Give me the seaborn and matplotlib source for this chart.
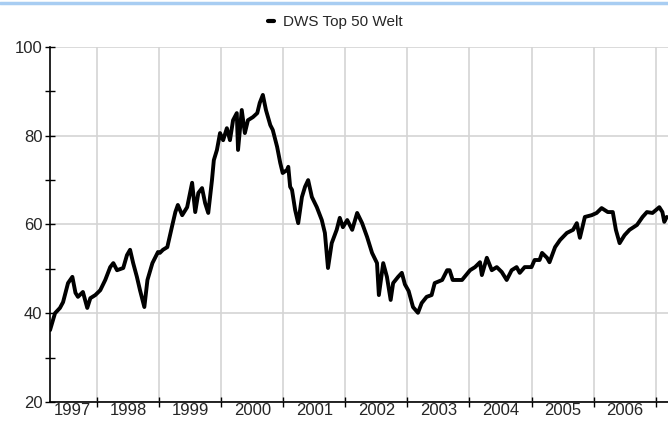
import pandas as pd
import matplotlib.pyplot as plt
import seaborn as sns
from matplotlib.lines import Line2D

# DWS Top 50 Welt (decimal year, price)
years = [1997.24, 1997.32, 1997.40, 1997.45, 1997.53, 1997.60, 1997.65, 1997.69, 1997.77, 1997.84,
         1997.89, 1997.97, 1998.05, 1998.13, 1998.21, 1998.26, 1998.32, 1998.42, 1998.48, 1998.53,
         1998.58, 1998.64, 1998.69, 1998.76, 1998.81, 1998.89, 1998.98, 1999.01, 1999.06, 1999.13,
         1999.18, 1999.21, 1999.26, 1999.30, 1999.37, 1999.45, 1999.53, 1999.58, 1999.63, 1999.69,
         1999.74, 1999.79, 1999.85, 1999.88, 1999.93, 1999.98, 2000.03, 2000.09, 2000.14, 2000.19,
         2000.25, 2000.27, 2000.33, 2000.38, 2000.43, 2000.51, 2000.58, 2000.62, 2000.67, 2000.72,
         2000.79, 2000.83, 2000.90, 2000.95, 2000.99, 2001.06, 2001.08, 2001.11, 2001.14, 2001.19,
         2001.24, 2001.30, 2001.35, 2001.40, 2001.46, 2001.54, 2001.62, 2001.67, 2001.72, 2001.78,
         2001.86, 2001.91, 2001.96, 2002.03, 2002.11, 2002.19, 2002.27, 2002.35, 2002.43, 2002.51,
         2002.54, 2002.61, 2002.67, 2002.73, 2002.77, 2002.85, 2002.91, 2002.96, 2003.02, 2003.09,
         2003.17, 2003.23, 2003.31, 2003.39, 2003.44, 2003.56, 2003.64, 2003.68, 2003.73, 2003.88,
         2004.01, 2004.09, 2004.17, 2004.20, 2004.28, 2004.36, 2004.44, 2004.52, 2004.60, 2004.68,
         2004.76, 2004.81, 2004.89, 2005.00, 2005.05, 2005.13, 2005.17, 2005.25, 2005.29, 2005.38,
         2005.46, 2005.57, 2005.67, 2005.73, 2005.78, 2005.86, 2005.97, 2006.05, 2006.13, 2006.23,
         2006.31, 2006.36, 2006.42, 2006.50, 2006.58, 2006.70, 2006.79, 2006.86, 2006.95, 2007.06,
         2007.11, 2007.14, 2007.18]
prices = [36.2, 40.0, 41.2, 42.5, 46.8, 48.2, 44.6, 43.7, 44.8, 41.2,
          43.4, 44.1, 45.2, 47.5, 50.4, 51.3, 49.7, 50.2, 53.1, 54.3,
          51.3, 48.2, 45.2, 41.4, 47.5, 51.3, 53.8, 53.6, 54.3, 54.9,
          58.0, 59.8, 62.8, 64.4, 62.1, 63.9, 69.4, 62.8, 67.1, 68.2,
          64.8, 62.6, 70.0, 74.5, 76.8, 80.6, 79.0, 81.7, 79.0, 83.5,
          85.1, 76.8, 85.8, 80.6, 83.5, 84.2, 85.1, 87.4, 89.2, 85.8,
          82.4, 81.3, 77.5, 73.9, 71.6, 72.3, 73.0, 68.5, 67.8, 63.3,
          60.3, 66.2, 68.5, 70.0, 66.2, 63.9, 61.0, 58.1, 50.2, 55.8,
          58.8, 61.5, 59.4, 61.0, 58.8, 62.6, 60.3, 57.2, 53.6, 51.3,
          44.1, 51.3, 48.2, 43.0, 46.8, 48.2, 49.1, 46.5, 45.0, 41.4,
          40.1, 42.3, 43.7, 44.1, 46.8, 47.5, 49.7, 49.7, 47.5, 47.5,
          49.7, 50.4, 51.5, 48.6, 52.5, 49.7, 50.4, 49.3, 47.5, 49.7,
          50.4, 49.1, 50.4, 50.4, 52.0, 52.0, 53.6, 52.5, 51.5, 54.9,
          56.5, 58.1, 58.8, 60.3, 57.0, 61.7, 62.1, 62.6, 63.7, 62.8,
          62.8, 58.8, 55.8, 57.6, 58.8, 59.9, 61.7, 62.8, 62.6, 63.9,
          62.8, 60.6, 61.7]

year_labels = ['1997', '1998', '1999', '2000', '2001', '2002', '2003', '2004', '2005', '2006']
label_pos = [1997.6, 1998.5, 1999.5, 2000.5, 2001.5, 2002.5, 2003.5, 2004.5, 2005.5, 2006.5]
year_lines = [1998, 1999, 2000, 2001, 2002, 2003, 2004, 2005, 2006, 2007]

df = pd.DataFrame({'year': years, 'price': prices, 'fund': 'DWS Top 50 Welt'})

sns.set_style('white')
plt.rcParams['font.family'] = ['Liberation Sans', 'DejaVu Sans']

fig = plt.figure(figsize=(6.68, 4.21), dpi=100)
ax = fig.add_axes([0.0749, 0.0451, 0.9251, 0.8433])

sns.lineplot(data=df, x='year', y='price', hue='fund', palette=['black'],
             linewidth=2.8, ax=ax, legend=False)

ax.set_xlim(1997.24, 2007.2)
ax.set_ylim(20, 100)

# year boundaries as major ticks / gridlines, labels in the middle of each year
ax.set_xticks(year_lines)
ax.set_xticklabels([])
ax.set_xticks(label_pos, minor=True)
ax.set_xticklabels(year_labels, minor=True)
ax.tick_params(axis='x', which='major', bottom=True, direction='inout', length=7,
               width=1, color='black')
ax.tick_params(axis='x', which='minor', bottom=True, length=0, labelsize=12, pad=1)

ax.set_yticks([20, 40, 60, 80, 100])
ax.set_yticks([30, 50, 70, 90], minor=True)
ax.tick_params(axis='y', which='both', left=True, direction='inout', length=7, width=1,
               color='black', labelsize=12, pad=2)

ax.grid(True, which='major', color='#d4d4d4', linewidth=1.2)
ax.set_axisbelow(True)
for s in ['top', 'right']:
    ax.spines[s].set_visible(False)
for s in ['left', 'bottom']:
    ax.spines[s].set_color('black')
    ax.spines[s].set_linewidth(1.2)

ax.set_xlabel('')
ax.set_ylabel('')

handle = Line2D([], [], color='black', linewidth=3)
fig.legend([handle], ['DWS Top 50 Welt'], loc='center', bbox_to_anchor=(0.502, 0.947),
           frameon=False, fontsize=11, handlelength=0.4, handletextpad=0.6)

# light blue band along the top edge
fig.add_artist(Line2D([0, 1], [0.993, 0.993], transform=fig.transFigure,
                      color='#a8cdf2', linewidth=2.5))

fig.savefig('out.png', dpi=100)
